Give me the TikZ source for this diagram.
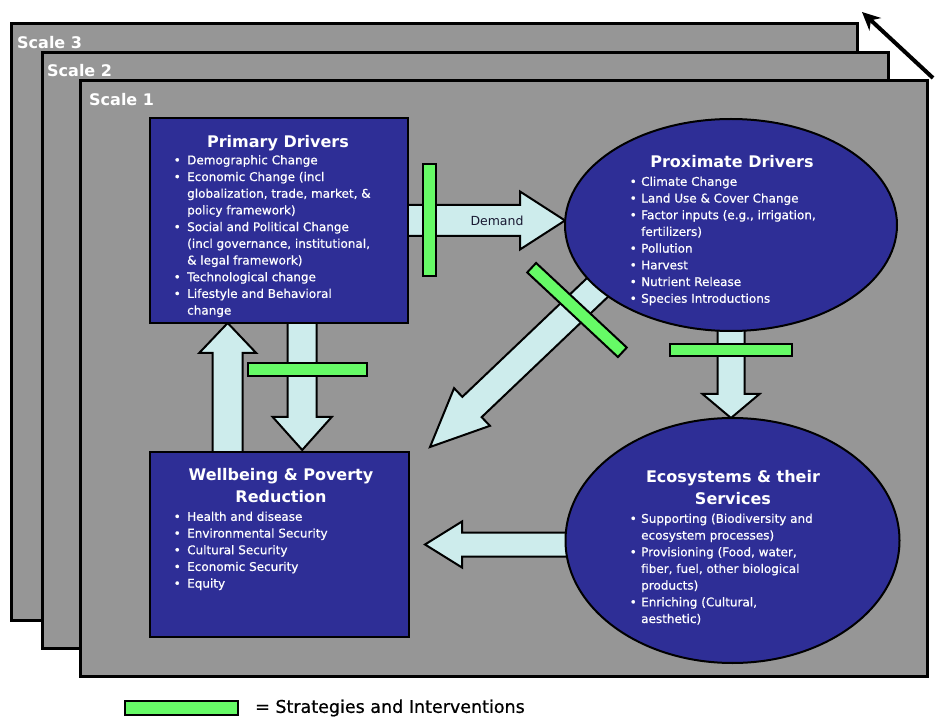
\documentclass[tikz,border=0pt]{standalone}
\usepackage{fontspec}
\setmainfont{DejaVu Sans}
\newfontfamily\heavyfont{DejaVu Sans}[FakeBold=0.7]
\usetikzlibrary{calc,shapes.geometric,arrows.meta}
\definecolor{framegray}{RGB}{150,150,150}
\definecolor{boxblue}{RGB}{46,46,150}
\definecolor{arrcyan}{RGB}{205,236,236}
\definecolor{bargreen}{RGB}{102,250,102}
\definecolor{demandtxt}{RGB}{25,25,50}
\pgfdeclarelayer{frames}
\pgfdeclarelayer{arrows}
\pgfsetlayers{frames,arrows,main}
% fat arrow from #1 to tip #2: shaft half-width #3, head half-width #4, head length #5
\newcommand\fatarrow[5]{%
  \coordinate (fab) at ($(#2)!#5!(#1)$);
  \draw[fatarr] ($(#1)!#3!-90:(#2)$) -- ($(fab)!#3!90:(#1)$) -- ($(fab)!#4!90:(#1)$)
    -- (#2) -- ($(fab)!#4!-90:(#1)$) -- ($(fab)!#3!-90:(#1)$) -- ($(#1)!#3!90:(#2)$) -- cycle;
}
\newcommand\bulA{\makebox[13.5pt][l]{\textbullet}}
\newcommand\cntA{\hspace*{13.5pt}}
\newcommand\bulB{\makebox[11.5pt][l]{\textbullet}}
\newcommand\cntB{\hspace*{11.5pt}}
\tikzset{
  frame/.style={draw=black, line width=3pt, fill=framegray},
  scalelbl/.style={text=white, font=\fontsize{16}{18}\bfseries\selectfont, anchor=west, inner sep=0pt},
  bluebox/.style={draw=black, line width=2.5pt, fill=boxblue, inner sep=0pt, outer sep=0pt},
  blueell/.style={ellipse, draw=black, line width=2pt, fill=boxblue, inner sep=0pt, outer sep=0pt},
  titletxt/.style={text=white, font=\fontsize{16}{22}\bfseries\selectfont, align=center, inner sep=0pt},
  bodytxt/.style={text=white, font=\heavyfont\fontsize{12}{16.7}\selectfont, align=left, anchor=north west, inner sep=0pt},
  fatarr/.style={draw=black, line width=2pt, fill=arrcyan, line join=miter},
  gbar/.style={draw=black, line width=2pt, fill=bargreen, inner sep=0pt, outer sep=0pt},
}
\begin{document}
\begin{tikzpicture}[x=1pt,y=-1pt]
\useasboundingbox (0,0) rectangle (935,719);
\begin{pgfonlayer}{frames}
  \draw[frame] (11,24) rectangle (857,620);
  \draw[frame] (42,53) rectangle (888,648);
  \draw[frame] (80,81) rectangle (927,676);
\end{pgfonlayer}
\node[scalelbl] (s3) at (17,43) {Scale 3};
\node[scalelbl] (s2) at (47,71) {Scale 2};
\node[scalelbl] (s1) at (89,100) {Scale 1};
\coordinate (tra) at (933,78);
\coordinate (trb) at (862,12);
\draw[line width=4pt, -{Stealth[length=18pt,width=17pt]}] (tra) -- (trb);

% main nodes
\node[bluebox, minimum width=258pt, minimum height=205pt] (prim) at (279,220.5) {};
\node[bluebox, minimum width=259pt, minimum height=185pt] (wb) at (279.5,544.5) {};
\node[blueell, minimum width=332pt, minimum height=212pt] (prox) at (731,225) {};
\node[blueell, minimum width=334pt, minimum height=245pt] (eco) at (732.5,540.5) {};

% titles
\node[titletxt] (primt) at (278,143) {Primary Drivers};
\node[titletxt] (proxt) at (732,162) {Proximate Drivers};
\node[titletxt] (wbt) at (281,486) {Wellbeing \& Poverty\\Reduction};
\node[titletxt] (ecot) at (733,488) {Ecosystems \& their\\Services};

% bodies
\node[bodytxt] (primb) at (173.5,155) {\bulA Demographic Change\\
\bulA Economic Change (incl\\
\cntA globalization, trade, market, \&\\
\cntA policy framework)\\
\bulA Social and Political Change\\
\cntA (incl governance, institutional,\\
\cntA \& legal framework)\\
\bulA Technological change\\
\bulA Lifestyle and Behavioral\\
\cntA change};
\node[bodytxt] (proxb) at (629.5,176.5) {\bulB Climate Change\\
\bulB Land Use \& Cover Change\\
\bulB Factor inputs (e.g., irrigation,\\
\cntB fertilizers)\\
\bulB Pollution\\
\bulB Harvest\\
\bulB Nutrient Release\\
\bulB Species Introductions};
\node[bodytxt] (wbb) at (173.5,511.5) {\bulA Health and disease\\
\bulA Environmental Security\\
\bulA Cultural Security\\
\bulA Economic Security\\
\bulA Equity};
\node[bodytxt] (ecob) at (629.5,513.5) {\bulB Supporting (Biodiversity and\\
\cntB ecosystem processes)\\
\bulB Provisioning (Food, water,\\
\cntB fiber, fuel, other biological\\
\cntB products)\\
\bulB Enriching (Cultural,\\
\cntB aesthetic)};

% fat arrows (below nodes)
\begin{pgfonlayer}{arrows}
  \coordinate (dA) at (prim.center);
  \coordinate (dB) at (prim.east -| prox.west);
  \fatarrow{dA}{dB}{15.5pt}{29pt}{45pt}
  \coordinate (upA) at ($(wb.north west)!0.3!(wb.north east)+(0,20)$);
  \coordinate (upB) at (upA |- prim.south);
  \fatarrow{upA}{upB}{15pt}{28.5pt}{30pt}
  \coordinate (dnA) at ($(prim.south west)!0.59!(prim.south east)+(0,-20)$);
  \coordinate (dnB) at ($(dnA |- wb.north)+(0,-2)$);
  \fatarrow{dnA}{dnB}{14.5pt}{29.5pt}{33pt}
  \coordinate (dgA) at ($(prox.center)+(-90,21)$);
  \coordinate (dgB) at ($(wb.north east)+(21,-5)$);
  \fatarrow{dgA}{dgB}{14pt}{26pt}{58pt}
  \coordinate (peA) at (prox.center);
  \coordinate (peB) at (prox.center |- eco.north);
  \fatarrow{peA}{peB}{13.5pt}{28.5pt}{24pt}
  \coordinate (ewB) at ($(wb.east)+(16,0)$);
  \coordinate (ewA) at (eco.center |- ewB);
  \fatarrow{ewA}{ewB}{12pt}{23pt}{37pt}
\end{pgfonlayer}
\node[text=demandtxt, font=\fontsize{12.5}{14}\selectfont, inner sep=0pt] (dem) at (497,221) {Demand};

% strategies and interventions bars
\node[gbar, minimum width=13pt, minimum height=112pt] (bar1) at (429.5,220) {};
\node[gbar, minimum width=119pt, minimum height=13pt] (bar2) at (307.5,369.5) {};
\node[gbar, minimum width=122pt, minimum height=12pt] (bar3) at (731,350.5) {};
\node[gbar, minimum width=124pt, minimum height=13pt, rotate=-43] (bar4) at (577,310) {};

% legend
\node[gbar, minimum width=113pt, minimum height=14pt] (legbar) at (181.5,708) {};
\node[anchor=west, inner sep=0pt, font=\heavyfont\fontsize{17.5}{19}\selectfont] (legtxt) at (255,708) {= Strategies and Interventions};
\end{tikzpicture}
\end{document}
